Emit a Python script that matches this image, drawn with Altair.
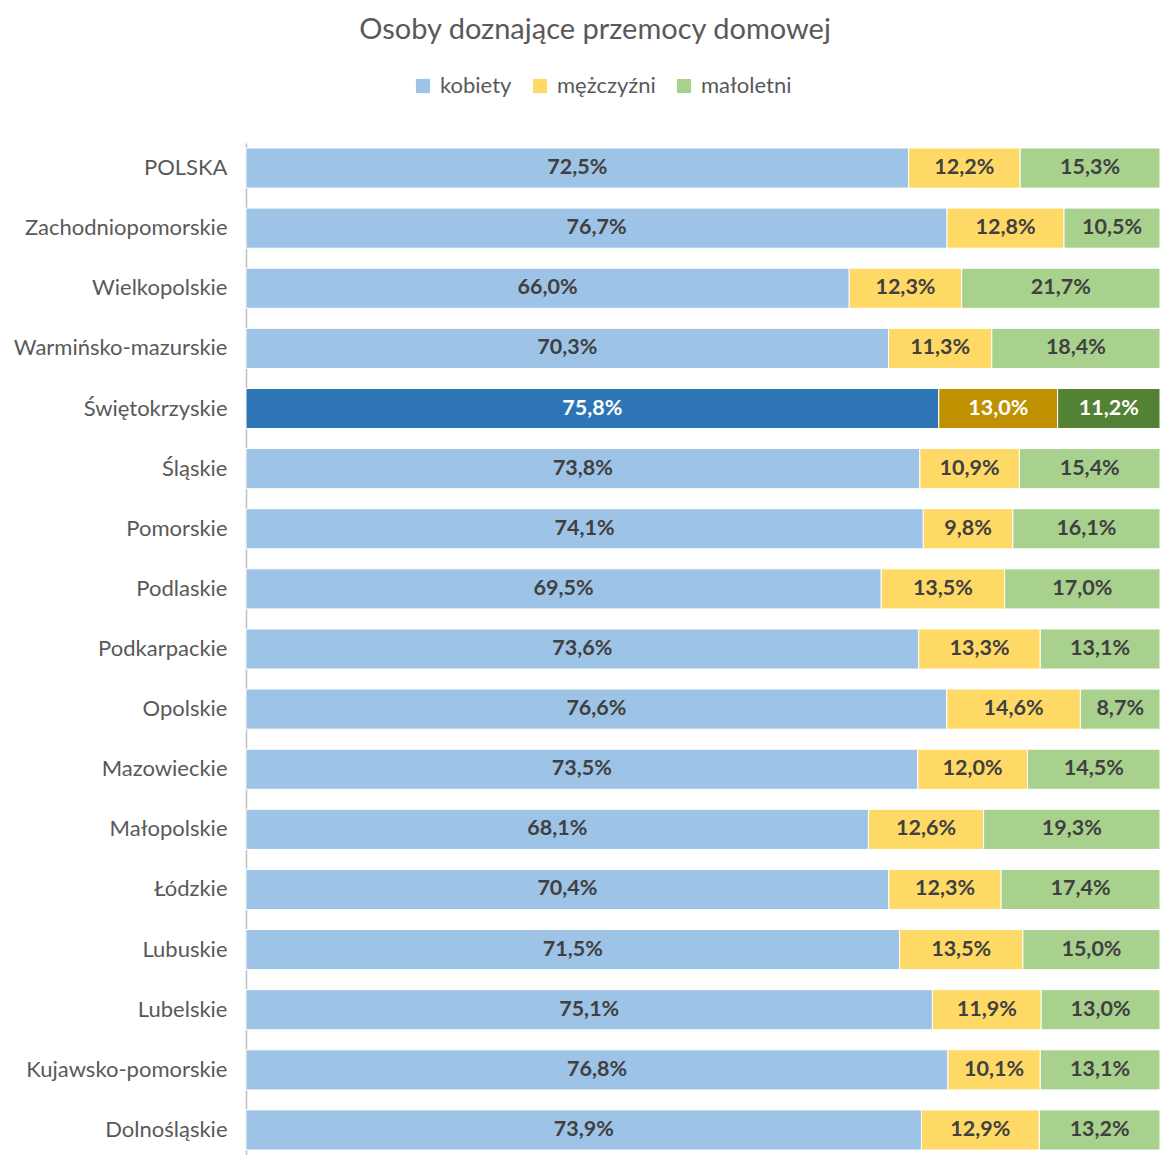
import altair as alt
import pandas as pd

regions = ["POLSKA", "Zachodniopomorskie", "Wielkopolskie", "Warmińsko-mazurskie",
           "Świętokrzyskie", "Śląskie", "Pomorskie", "Podlaskie", "Podkarpackie",
           "Opolskie", "Mazowieckie", "Małopolskie", "Łódzkie", "Lubuskie",
           "Lubelskie", "Kujawsko-pomorskie", "Dolnośląskie"]
kobiety = [72.5, 76.7, 66.0, 70.3, 75.8, 73.8, 74.1, 69.5, 73.6, 76.6, 73.5, 68.1, 70.4, 71.5, 75.1, 76.8, 73.9]
mezczyzni = [12.2, 12.8, 12.3, 11.3, 13.0, 10.9, 9.8, 13.5, 13.3, 14.6, 12.0, 12.6, 12.3, 13.5, 11.9, 10.1, 12.9]
maloletni = [15.3, 10.5, 21.7, 18.4, 11.2, 15.4, 16.1, 17.0, 13.1, 8.7, 14.5, 19.3, 17.4, 15.0, 13.0, 13.1, 13.2]
series = ["kobiety", "mężczyźni", "małoletni"]
highlight = "Świętokrzyskie"

rows = []
for i, r in enumerate(regions):
    for j, (s, vals) in enumerate(zip(series, [kobiety, mezczyzni, maloletni])):
        v = vals[i]
        key = s + (" (wyr.)" if r == highlight else "")
        rows.append({"region": r, "series": s, "key": key, "order": j, "value": v,
                     "label": f"{v:.1f}".replace(".", ",") + "%",
                     "hl": r == highlight})
df = pd.DataFrame(rows)

keys = series + [s + " (wyr.)" for s in series]
colors = ["#9DC3E6", "#FFD966", "#A9D18E", "#2E75B6", "#BF9000", "#548235"]

FONT = "Lato"

base = alt.Chart(df).transform_stack(
    stack="value", groupby=["region"], as_=["x0", "x1"], offset="normalize",
    sort=[alt.SortField("order", order="ascending")]
).transform_calculate(xm="(datum.x0 + datum.x1) / 2")

yenc = alt.Y("region:N", sort=regions, title=None,
             scale=alt.Scale(paddingInner=0.333, paddingOuter=0.083),
             axis=alt.Axis(labelFont=FONT, labelFontSize=22, labelColor="#595959",
                           labelPadding=19, ticks=False, domainColor="#BFBFBF",
                           domainWidth=1.5, labelLimit=300))

bars = base.mark_bar(stroke="white", strokeWidth=1).encode(
    x=alt.X("x0:Q", scale=alt.Scale(domain=[0, 1], nice=False, zero=False), axis=None),
    x2="x1:Q",
    y=yenc,
    color=alt.Color("key:N", scale=alt.Scale(domain=keys, range=colors),
                    legend=alt.Legend(values=series, title=None, orient="none",
                                      direction="horizontal", legendX=166, legendY=-68,
                                      symbolType="square", symbolSize=200,
                                      symbolStrokeWidth=0, labelFont=FONT,
                                      labelFontSize=22, labelColor="#595959",
                                      columnPadding=17, labelOffset=6)),
)

texts = base.mark_text(font=FONT, fontSize=21.5, fontWeight="bold").encode(
    x=alt.X("xm:Q", scale=alt.Scale(domain=[0, 1], nice=False, zero=False), axis=None),
    y=alt.Y("region:N", sort=regions),
    text="label:N",
    color=alt.condition("datum.hl", alt.value("white"), alt.value("#404040")),
)

chart = alt.layer(bars, texts).properties(
    width=914, height=1012,
    autosize=alt.AutoSizeParams(type="none"),
    padding={"left": 238, "top": 135, "right": 0, "bottom": 0},
    title=alt.TitleParams("Osoby doznające przemocy domowej", font=FONT, fontSize=29,
                          fontWeight="normal", color="#595959", anchor="middle",
                          dx=-108, offset=30),
).configure_view(stroke=None)

chart.save("out.html", embed_options={"renderer": "svg", "actions": False})
